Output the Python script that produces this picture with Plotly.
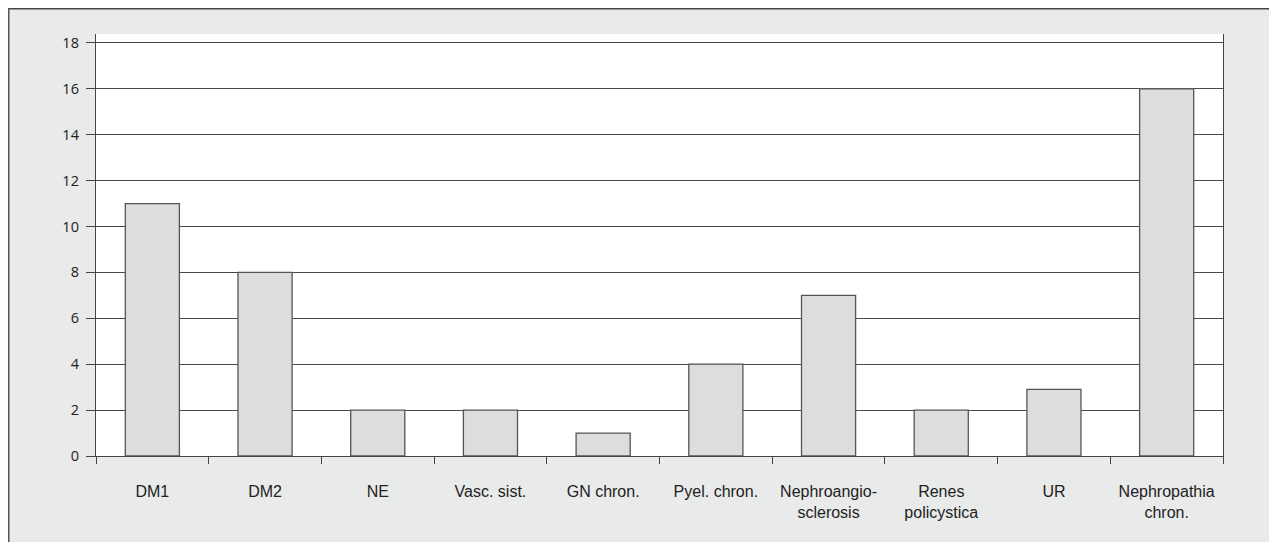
import plotly.graph_objects as go

categories = ["DM1", "DM2", "NE", "Vasc. sist.", "GN chron.", "Pyel. chron.",
              "Nephroangio-<br>sclerosis", "Renes<br>policystica", "UR",
              "Nephropathia<br>chron."]
values = [11, 8, 2, 2, 1, 4, 7, 2, 2.9, 16]
y_ticks = [0, 2, 4, 6, 8, 10, 12, 14, 16, 18]

W, H = 1277, 542
L, T, PW, PH = 88, 26, 1127, 422
R = W - L - PW
B = H - T - PH

fig = go.Figure()
fig.add_trace(go.Bar(
    x=categories, y=values, width=0.48,
    marker=dict(color="#dcdddf", line=dict(color="#555555", width=1.3)),
))

fig.update_layout(
    width=W, height=H,
    margin=dict(l=L, r=R, t=T, b=B),
    paper_bgcolor="#e9eaea", plot_bgcolor="#ffffff",
    showlegend=False,
    xaxis=dict(
        type="category", tickson="boundaries", ticks="outside", ticklen=7,
        tickcolor="#444444", tickwidth=1.3,
        showline=True, linecolor="#444444", linewidth=1.3,
        showgrid=False,
        tickfont=dict(family="Liberation Sans, Arial", size=16, color="#222222"),
        ticklabelstandoff=21,
    ),
    yaxis=dict(
        range=[0, 18.39], tickvals=y_ticks, ticks="outside", ticklen=9,
        tickcolor="#444444", tickwidth=1.3,
        showline=True, linecolor="#444444", linewidth=1.3, mirror=True,
        showgrid=True, gridcolor="#4a4a4a", gridwidth=1.1,
        zeroline=False,
        tickfont=dict(family="Open Sans", size=14.5, color="#222222"),
        ticklabelstandoff=4,
    ),
    shapes=[
        dict(type="line", xref="paper", yref="paper",
             x0=-L/PW, x1=1.0 + R/PW, y0=1.0 + (T - 0.5)/PH, y1=1.0 + (T - 0.5)/PH,
             line=dict(color="#444444", width=2)),
        dict(type="line", xref="paper", yref="paper",
             x0=-(L - 0.5)/PW, x1=-(L - 0.5)/PW, y0=-B/PH, y1=1.0 + T/PH,
             line=dict(color="#555555", width=2)),
    ],
)

fig.write_html("out.html")
